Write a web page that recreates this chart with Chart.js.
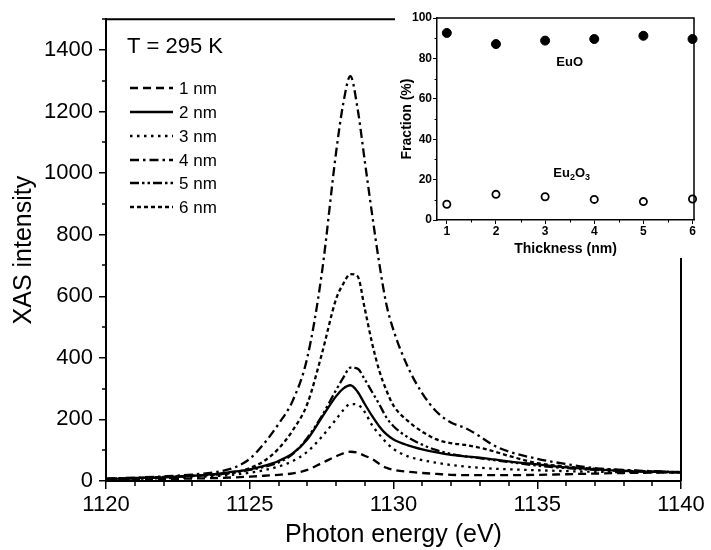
<!DOCTYPE html>
<html>
<head>
<meta charset="utf-8">
<script src="https://cdn.jsdelivr.net/npm/chart.js@4.4.1/dist/chart.umd.min.js"></script>
<style>
  html, body { margin: 0; padding: 0; background: #fff; }
  #wrap { position: relative; width: 711px; height: 550px; overflow: hidden; }
  #main { position: absolute; left: 0; top: 0; }
  #inset { position: absolute; left: 395px; top: 0; background: #fff; }
</style>
</head>
<body>
<div id="wrap">
  <canvas id="main" width="711" height="550"></canvas>
  <canvas id="inset" width="316" height="258"></canvas>
</div>
<script>
// ---------------- data ----------------
const energy = [1120, 1121, 1122, 1123, 1124, 1124.5, 1125, 1125.5, 1126, 1126.5, 1127, 1127.5, 1128, 1128.25, 1128.5, 1128.75, 1129, 1129.25, 1129.5, 1129.75, 1130, 1130.5, 1131, 1131.5, 1132, 1132.5, 1133, 1133.5, 1134, 1135, 1136, 1137, 1138, 1139, 1140];

const xas1nm = [4, 5, 6, 8, 10, 12, 14, 17, 20, 25, 36, 58, 80, 90, 95, 92, 82, 72, 56, 43, 36, 30, 26, 23, 20, 19, 19, 19, 19, 20, 22, 24, 26, 27, 28];
const xas2nm = [6, 9, 12, 17, 25, 31, 38, 49, 65, 90, 135, 205, 275, 300, 311, 290, 250, 212, 178, 152, 135, 116, 103, 93, 85, 80, 76, 70, 64, 54, 44, 38, 33, 30, 28];
const xas3nm = [5, 7, 9, 12, 17, 21, 27, 35, 47, 65, 95, 143, 200, 230, 250, 248, 224, 182, 152, 125, 104, 80, 68, 59, 52, 47, 43, 40, 38, 35, 32, 30, 29, 28, 28];
const xas4nm = [8, 11, 15, 21, 32, 45, 72, 122, 185, 262, 400, 670, 1065, 1225, 1315, 1210, 1040, 870, 710, 575, 490, 370, 285, 225, 190, 172, 145, 115, 96, 72, 55, 42, 36, 32, 29];
const xas5nm = [7, 9, 12, 16, 22, 28, 36, 46, 60, 88, 140, 210, 295, 335, 368, 365, 330, 290, 250, 207, 178, 142, 118, 100, 88, 80, 74, 68, 62, 50, 42, 36, 33, 30, 28];
const xas6nm = [7, 10, 13, 17, 22, 28, 42, 65, 105, 165, 250, 410, 590, 640, 672, 665, 560, 450, 360, 295, 245, 195, 160, 135, 123, 117, 108, 96, 82, 58, 47, 40, 35, 31, 29];

const seriesLabels = ['1 nm', '2 nm', '3 nm', '4 nm', '5 nm', '6 nm'];
const energyTicks = [1120, 1125, 1130, 1135, 1140];
const intensityTicks = [0, 200, 400, 600, 800, 1000, 1200, 1400];

const thickness = [1, 2, 3, 4, 5, 6];
const euoFraction = [92.6, 87.1, 88.8, 89.6, 91.2, 89.6];
const eu2o3Fraction = [7.8, 12.7, 11.5, 10.2, 9.1, 10.4];
const thicknessTicks = [1, 2, 3, 4, 5, 6];
const fractionTicks = [0, 20, 40, 60, 80, 100];

// ---------------- styles ----------------
const FONT = '"Liberation Sans", Arial, Helvetica, sans-serif';
Chart.defaults.font.family = FONT;
Chart.defaults.color = '#000';
const plain = v => String(v);

const dashes = [[8, 5], [], [2.5, 4.5], [9, 4, 2.5, 4], [9, 3, 2.5, 3, 2.5, 3], [4, 3]];
const allSeries = [xas1nm, xas2nm, xas3nm, xas4nm, xas5nm, xas6nm];

const datasets = allSeries.map((vals, i) => ({
  label: seriesLabels[i],
  data: energy.map((e, k) => ({ x: e, y: vals[k] })),
  borderColor: '#000',
  borderWidth: 2.3,
  borderDash: dashes[i],
  pointRadius: 0,
  fill: false,
  cubicInterpolationMode: 'monotone'
}));

const mainDecor = {
  id: 'mainDecor',
  afterDraw(chart) {
    const ctx = chart.ctx;
    const a = chart.chartArea;
    const xs = chart.scales.x, ys = chart.scales.y;
    ctx.save();
    ctx.strokeStyle = '#000';
    ctx.lineWidth = 2;
    ctx.beginPath();
    ctx.moveTo(a.left, a.top); ctx.lineTo(a.right, a.top); ctx.lineTo(a.right, a.bottom);
    ctx.stroke();
    ctx.lineWidth = 1.5;
    ctx.beginPath();
    for (let e = 1121; e < 1140; e++) {
      if (e % 5 === 0) continue;
      const px = Math.round(xs.getPixelForValue(e));
      ctx.moveTo(px, a.bottom); ctx.lineTo(px, a.bottom + 5);
    }
    for (let v = 100; v <= 1500; v += 200) {
      const py = Math.round(ys.getPixelForValue(v));
      ctx.moveTo(a.left, py); ctx.lineTo(a.left - 4, py);
    }
    ctx.stroke();
    ctx.fillStyle = '#000';
    ctx.font = '22px ' + FONT;
    ctx.textBaseline = 'middle';
    ctx.textAlign = 'left';
    ctx.fillText('T = 295 K', 127, 47);
    const rowY = [88, 112, 136, 160, 183, 207];
    ctx.font = '17px ' + FONT;
    chart.data.datasets.forEach((ds, i) => {
      ctx.setLineDash(ds.borderDash);
      ctx.lineWidth = 2.3;
      ctx.beginPath();
      ctx.moveTo(130, rowY[i]); ctx.lineTo(173, rowY[i]);
      ctx.stroke();
      ctx.setLineDash([]);
      ctx.fillText(ds.label, 179, rowY[i] + 1);
    });
    ctx.restore();
  }
};

new Chart(document.getElementById('main'), {
  type: 'line',
  data: { datasets },
  options: {
    responsive: false,
    animation: false,
    layout: { padding: { top: 17, right: 30, left: 0, bottom: 0 } },
    plugins: { legend: { display: false }, tooltip: { enabled: false } },
    scales: {
      x: {
        type: 'linear', min: 1120, max: 1140,
        afterBuildTicks: s => { s.ticks = energyTicks.map(v => ({ value: v })); },
        afterFit: s => { s.height = 69; },
        ticks: { font: { size: 22 }, color: '#000', padding: 3, maxRotation: 0, callback: plain },
        grid: { drawOnChartArea: false, drawTicks: true, tickLength: 8, color: '#000', lineWidth: 1.5 },
        border: { display: true, color: '#000', width: 2 },
        title: { display: true, text: 'Photon energy (eV)', font: { size: 25 }, color: '#000', padding: { top: -2, bottom: 0 } }
      },
      y: {
        type: 'linear', min: 0, max: 1500,
        afterBuildTicks: s => { s.ticks = intensityTicks.map(v => ({ value: v })); },
        afterFit: s => { s.width = 106; },
        ticks: { font: { size: 22 }, color: '#000', padding: 6, callback: plain },
        grid: { drawOnChartArea: false, drawTicks: true, tickLength: 7, color: '#000', lineWidth: 1.5 },
        border: { display: true, color: '#000', width: 2 },
        title: { display: true, text: 'XAS intensity', font: { size: 25 }, color: '#000', padding: { top: 9, bottom: 0 } }
      }
    }
  },
  plugins: [mainDecor]
});

// ---------------- inset ----------------
const insetDecor = {
  id: 'insetDecor',
  beforeDraw(chart) {
    const ctx = chart.ctx;
    ctx.save();
    ctx.fillStyle = '#fff';
    ctx.fillRect(0, 0, chart.width, chart.height);
    ctx.restore();
  },
  afterDraw(chart) {
    const ctx = chart.ctx;
    const a = chart.chartArea;
    const xs = chart.scales.x, ys = chart.scales.y;
    ctx.save();
    ctx.strokeStyle = '#000';
    ctx.lineWidth = 1.5;
    ctx.beginPath();
    ctx.moveTo(a.left, a.top); ctx.lineTo(a.right, a.top); ctx.lineTo(a.right, a.bottom);
    ctx.stroke();
    ctx.lineWidth = 1;
    ctx.beginPath();
    for (let v = 10; v < 100; v += 20) {
      const py = Math.round(ys.getPixelForValue(v)) + 0.5;
      ctx.moveTo(a.left, py); ctx.lineTo(a.left - 2.5, py);
    }
    for (let t = 1.5; t < 6; t += 1) {
      const px = Math.round(xs.getPixelForValue(t)) + 0.5;
      ctx.moveTo(px, a.bottom); ctx.lineTo(px, a.bottom + 2.5);
    }
    ctx.stroke();
    ctx.fillStyle = '#000';
    ctx.textBaseline = 'middle';
    ctx.textAlign = 'center';
    ctx.font = 'bold 13px ' + FONT;
    ctx.fillText('EuO', xs.getPixelForValue(3.5), ys.getPixelForValue(78));
    const cx = xs.getPixelForValue(3.54), cy = ys.getPixelForValue(23);
    const parts = [['Eu', false], ['2', true], ['O', false], ['3', true]];
    const fBig = 'bold 13px ' + FONT, fSmall = 'bold 9px ' + FONT;
    let total = 0;
    parts.forEach(([t, sub]) => { ctx.font = sub ? fSmall : fBig; total += ctx.measureText(t).width; });
    let x = cx - total / 2;
    ctx.textAlign = 'left';
    parts.forEach(([t, sub]) => {
      ctx.font = sub ? fSmall : fBig;
      ctx.fillText(t, x, sub ? cy + 4 : cy);
      x += ctx.measureText(t).width;
    });
    ctx.restore();
  }
};

new Chart(document.getElementById('inset'), {
  type: 'scatter',
  data: {
    datasets: [
      {
        label: 'EuO',
        data: thickness.map((t, k) => ({ x: t, y: euoFraction[k] })),
        pointRadius: 4.5, pointBackgroundColor: '#000', pointBorderColor: '#000', pointBorderWidth: 1,
        clip: false
      },
      {
        label: 'Eu2O3',
        data: thickness.map((t, k) => ({ x: t, y: eu2o3Fraction[k] })),
        pointRadius: 3.6, pointBackgroundColor: '#fff', pointBorderColor: '#000', pointBorderWidth: 1.8,
        clip: false
      }
    ]
  },
  options: {
    responsive: false,
    animation: false,
    layout: { padding: { top: 18, right: 17, left: 0, bottom: 0 } },
    plugins: { legend: { display: false }, tooltip: { enabled: false } },
    scales: {
      x: {
        type: 'linear', min: 0.8, max: 6.03,
        afterBuildTicks: s => { s.ticks = thicknessTicks.map(v => ({ value: v })); },
        afterFit: s => { s.height = 38; },
        ticks: { font: { size: 12, weight: 'bold' }, color: '#000', padding: 0, maxRotation: 0, callback: plain },
        grid: { drawOnChartArea: false, drawTicks: true, tickLength: 4, color: '#000', lineWidth: 1 },
        border: { display: true, color: '#000', width: 1.5 },
        title: { display: true, text: 'Thickness (nm)', font: { size: 14, weight: 'bold' }, color: '#000', padding: { top: 0, bottom: 0 } }
      },
      y: {
        type: 'linear', min: 0, max: 100,
        afterBuildTicks: s => { s.ticks = fractionTicks.map(v => ({ value: v })); },
        afterFit: s => { s.width = 42; },
        ticks: { font: { size: 12, weight: 'bold' }, color: '#000', padding: 1, callback: plain },
        grid: { drawOnChartArea: false, drawTicks: true, tickLength: 4, color: '#000', lineWidth: 1 },
        border: { display: true, color: '#000', width: 1.5 },
        title: { display: true, text: 'Fraction (%)', font: { size: 14, weight: 'bold' }, color: '#000', padding: { top: 4, bottom: 0 } }
      }
    }
  },
  plugins: [insetDecor]
});
</script>
</body>
</html>
